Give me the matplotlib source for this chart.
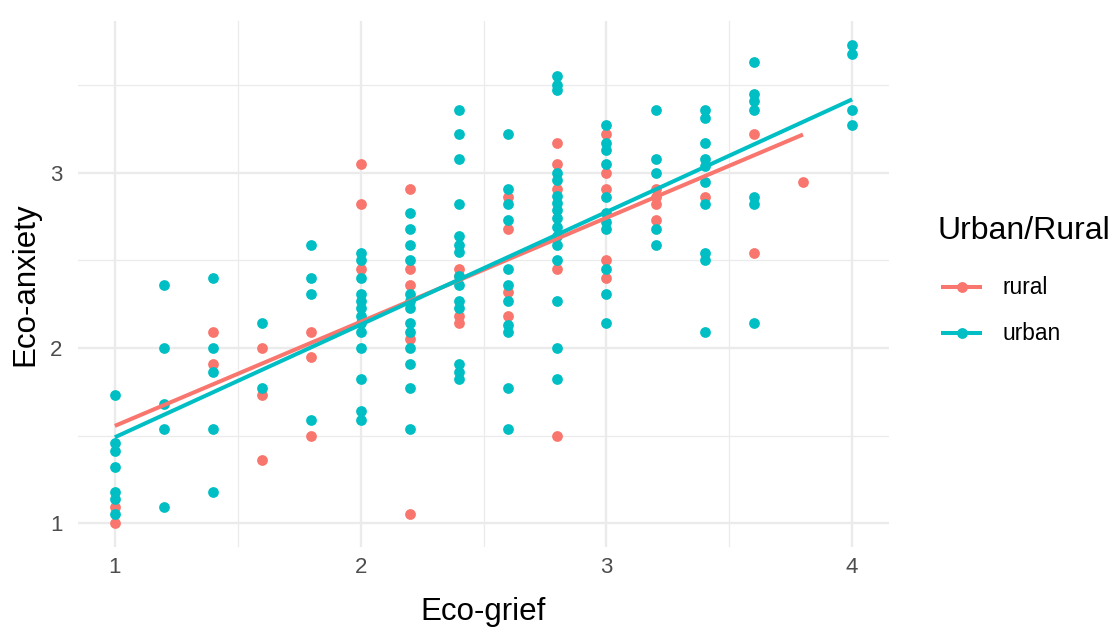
import numpy as np
import matplotlib
matplotlib.use("Agg")
import matplotlib.pyplot as plt
from matplotlib.lines import Line2D

plt.rcParams['font.family'] = ['Liberation Sans', 'DejaVu Sans']

# ---- data ----
rural_x = ([1]*2 + [1.4]*2 + [1.6]*3 + [1.8]*3 + [2]*3 + [2.2]*5 + [2.4]*4 +
           [2.6]*4 + [2.8]*5 + [3]*5 + [3.2]*4 + [3.4]*1 + [3.6]*2 + [3.8]*1)
rural_y = [1.09, 1.0,
           2.09, 1.91,
           2.0, 1.73, 1.36,
           2.09, 1.95, 1.50,
           3.05, 2.82, 2.45,
           2.91, 2.45, 2.36, 2.05, 1.05,
           2.45, 2.41, 2.18, 2.14,
           2.86, 2.68, 2.32, 2.18,
           3.17, 3.05, 2.91, 2.45, 1.50,
           3.22, 3.0, 2.91, 2.50, 2.40,
           2.91, 2.86, 2.82, 2.73,
           2.86,
           3.22, 2.54,
           2.95]

urban_x = ([1]*7 + [1.2]*5 + [1.4]*5 + [1.6]*2 + [1.8]*4 + [2]*13 + [2.2]*13 +
           [2.4]*14 + [2.6]*11 + [2.8]*16 + [3]*11 + [3.2]*5 + [3.4]*10 + [3.6]*7 + [4]*4)
urban_y = [1.73, 1.46, 1.41, 1.32, 1.18, 1.14, 1.05,
           2.36, 2.0, 1.68, 1.54, 1.09,
           2.40, 2.0, 1.86, 1.54, 1.18,
           2.14, 1.77,
           2.59, 2.40, 2.31, 1.59,
           2.54, 2.50, 2.40, 2.31, 2.27, 2.23, 2.18, 2.14, 2.09, 2.0, 1.82, 1.64, 1.59,
           2.77, 2.68, 2.59, 2.50, 2.31, 2.27, 2.23, 2.14, 2.09, 2.0, 1.91, 1.77, 1.54,
           3.36, 3.22, 3.08, 2.82, 2.64, 2.59, 2.55, 2.41, 2.36, 2.27, 2.23, 1.91, 1.86, 1.82,
           3.22, 2.91, 2.82, 2.73, 2.45, 2.36, 2.27, 2.13, 2.09, 1.77, 1.54,
           3.55, 3.50, 3.47, 3.0, 2.96, 2.87, 2.83, 2.79, 2.74, 2.69, 2.64, 2.59, 2.50, 2.27, 2.0, 1.82,
           3.27, 3.17, 3.13, 3.05, 2.86, 2.77, 2.72, 2.68, 2.45, 2.31, 2.14,
           3.36, 3.08, 3.0, 2.68, 2.59,
           3.36, 3.31, 3.17, 3.08, 3.04, 2.95, 2.82, 2.54, 2.50, 2.09,
           3.63, 3.45, 3.41, 3.36, 2.86, 2.82, 2.14,
           3.73, 3.68, 3.36, 3.27]

# linear trend lines (intercept, slope)
trend_intercept = [0.961, 0.847]
trend_slope = [0.594, 0.643]

groups = ["rural", "urban"]
colors = ["#F8766D", "#00BFC4"]
x_ticks = [1, 2, 3, 4]
y_ticks = [1, 2, 3]

W, H = 1114, 628
fig = plt.figure(figsize=(W/100, H/100), dpi=100)
L, R, T, B = 78, 889, 21, 547
ax = fig.add_axes([L/W, 1-B/H, (R-L)/W, (B-T)/H])

series = [(rural_x, rural_y), (urban_x, urban_y)]
for i, (gx, gy) in enumerate(series):
    gx = np.array(gx, float); gy = np.array(gy, float)
    ax.scatter(gx, gy, s=60, color=colors[i], linewidths=0, zorder=3)
    xs = np.array([gx.min(), gx.max()])
    ax.plot(xs, trend_intercept[i] + trend_slope[i]*xs, color=colors[i], lw=2.9,
            zorder=4, solid_capstyle='butt')

ax.set_xlim(0.85, 4.15)
ax.set_ylim(0.8635, 3.8665)
ax.set_xticks(x_ticks)
ax.set_yticks(y_ticks)
ax.set_xticks([1.5, 2.5, 3.5], minor=True)
ax.set_yticks([1.5, 2.5, 3.5], minor=True)
ax.grid(True, which='major', color='#EBEBEB', lw=1.7)
ax.grid(True, which='minor', color='#EBEBEB', lw=0.9)
ax.set_axisbelow(True)
for s in ax.spines.values():
    s.set_visible(False)
ax.tick_params(which='both', length=0, labelsize=16, colors='#4D4D4D')
ax.tick_params(axis='y', pad=11)
ax.tick_params(axis='x', pad=7)
ax.set_xlabel("Eco-grief", fontsize=22.5, color='black')
ax.set_ylabel("Eco-anxiety", fontsize=22.5, color='black')
ax.xaxis.label.set_va('center')
ax.yaxis.label.set_va('center')
ax.xaxis.set_label_coords(((L+R)/2 - L)/(R-L), (B-612)/(B-T))
ax.yaxis.set_label_coords((25-L)/(R-L), 0.5)

# legend (manual, ggplot-like)
def fx(px): return px/W
def fy(py): return 1-py/H
fig.text(fx(937), fy(231), "Urban/Rural", fontsize=23, ha='left', va='center', color='black')
for i, (g, yc) in enumerate(zip(groups, [287, 333])):
    fig.add_artist(Line2D([fx(941), fx(982)], [fy(yc), fy(yc)], color=colors[i], lw=2.9,
                          solid_capstyle='butt', transform=fig.transFigure))
    fig.add_artist(Line2D([fx(961.5)], [fy(yc)], color=colors[i], marker='o', markersize=7.8,
                          markeredgewidth=0, transform=fig.transFigure))
    fig.text(fx(1003), fy(yc), g, fontsize=16.4, ha='left', va='center', color='black')

fig.savefig("out.png", dpi=100, facecolor='white')
